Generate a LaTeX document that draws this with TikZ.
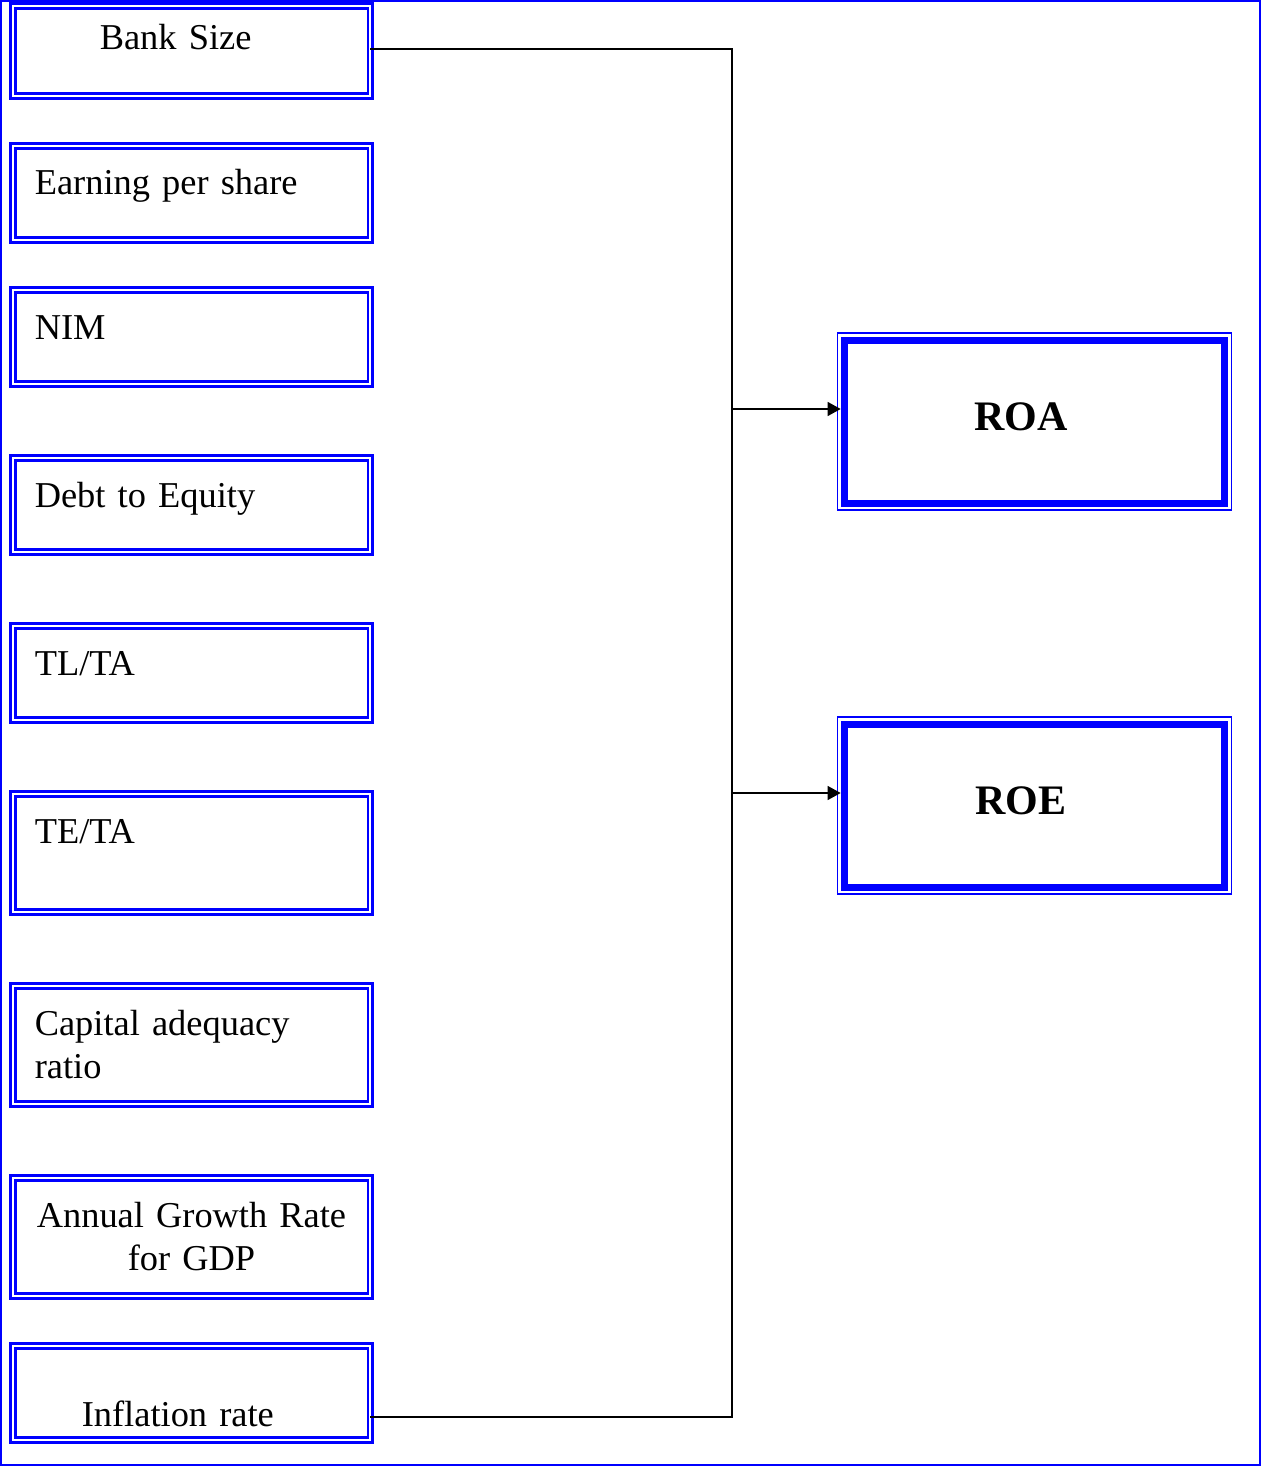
\documentclass[tikz,border=0pt]{standalone}
\usepackage{fontspec}
\setmainfont{Liberation Serif}
\usetikzlibrary{arrows.meta,positioning,fit}
\definecolor{frameblue}{HTML}{0000FF}

\begin{document}
\begin{tikzpicture}[
      factor/.style={draw=frameblue,double,line width=1.4pt,double distance=0.9pt,outer sep=0pt,
        inner xsep=11pt,inner ysep=0pt,text width=156.7pt,align=left,
        text height=24.5pt,text depth=22.5pt,font=\fontsize{18.2}{21.5}\selectfont},
      tallfactor/.style={factor,text depth=34.5pt},
      result/.style={draw=frameblue,line width=3.5pt,outer sep=0pt,minimum width=190pt,minimum height=81.5pt,
        inner sep=0pt,text height=14pt,text depth=5.5pt,font=\fontsize{21}{25}\selectfont\bfseries},
      resultframe/.style={draw=frameblue,line width=0.65pt,inner sep=3.55pt},
      wire/.style={line width=0.6pt},
      arr/.style={wire,-{Triangle[length=6.5pt,width=7pt]}}
    ]
    \useasboundingbox (0,0) rectangle (631pt,-733pt);
    \draw[frameblue,line width=0.9pt] (0.6pt,-0.4pt) rectangle (630pt,-732.4pt);
    % independent variables
    \node[factor,text height=21.8pt,text depth=23.2pt] (size) at (95.75pt,-25.5pt) {\hspace*{32.5pt}Bank Size};
    \node[factor,below=25pt of size] (eps) {Earning per share};
    \node[factor,below=25pt of eps] (nim) {NIM};
    \node[factor,below=37pt of nim] (debt) {Debt to Equity};
    \node[factor,below=37pt of debt] (tlta) {TL/TA};
    \node[tallfactor,below=37pt of tlta] (teta) {TE/TA};
    \node[tallfactor,below=37pt of teta] (car) {Capital adequacy\\ratio};
    \node[tallfactor,align=center,inner xsep=4pt,text width=170.7pt,below=37pt of car] (gdp) {Annual Growth Rate\\for GDP};
    \node[factor,below=25pt of gdp,text height=40.3pt,text depth=6.7pt] (infl) {\hspace*{23.5pt}Inflation rate};
    % dependent variables
    \node[result] (roa) at (517.2pt,-210.75pt) {ROA\hspace*{13.4pt}};
    \node[result,below=110.5pt of roa] (roe) {ROE\hspace*{13.4pt}};
    \node[resultframe,fit=(roa)] (roabox) {};
    \node[resultframe,fit=(roe)] (roebox) {};
    \coordinate (trunk) at (366pt,0);
    \coordinate (sizeout) at ([yshift=1pt]size.east);
    \coordinate (inflout) at ([yshift=-12pt]infl.east);
    \coordinate (roain) at ([xshift=2pt,yshift=6.25pt]roabox.west);
    \coordinate (roein) at ([xshift=2pt,yshift=6.25pt]roebox.west);
    \draw[wire] (sizeout) -| (trunk |- inflout) -- (inflout);
    \draw[arr] (trunk |- roain) -- (roain);
    \draw[arr] (trunk |- roein) -- (roein);
  \end{tikzpicture}
\end{document}
